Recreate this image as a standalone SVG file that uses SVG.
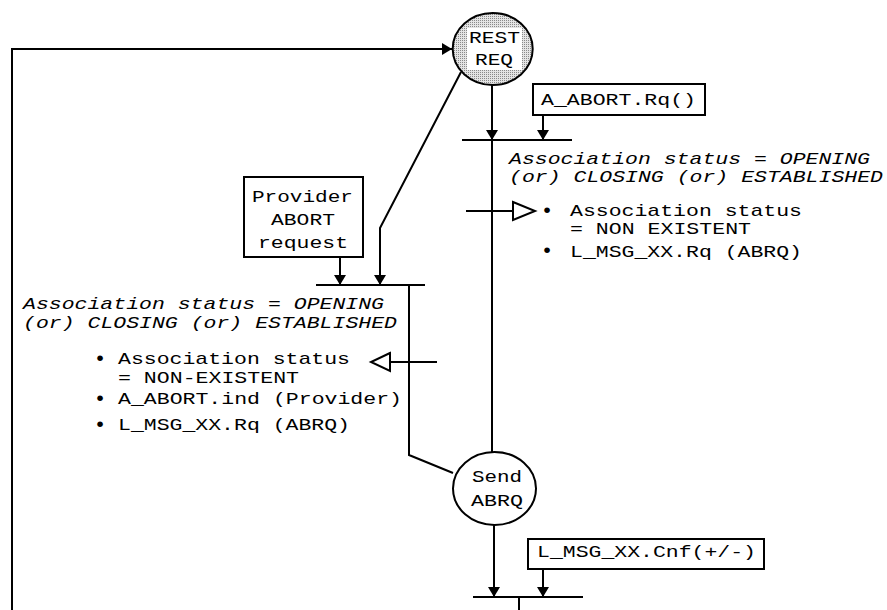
<svg xmlns="http://www.w3.org/2000/svg" width="887" height="610" viewBox="0 0 887 610">
<style>
.ln{fill:none;stroke:#000;stroke-width:2}
.bx{fill:#fff;stroke:#000;stroke-width:2}
.t{font-family:"Liberation Mono","DejaVu Sans Mono",monospace;font-size:17px;fill:#000}
.i{font-style:italic}
.b{font-family:"Liberation Mono","DejaVu Sans Mono",monospace;font-size:21px;fill:#000}
.hd{fill:#fff;stroke:#000;stroke-width:2}
</style>
<defs>
<marker id="ah" viewBox="0 0 10 12" refX="10" refY="6" markerWidth="10" markerHeight="12" markerUnits="userSpaceOnUse" orient="auto">
<path d="M0,0 L10,6 L0,12 Z" fill="#000"/>
</marker>
<pattern id="dots" width="2" height="2" patternUnits="userSpaceOnUse">
<rect width="2" height="2" fill="#e4e4e4"/>
<rect width="1" height="1" fill="#8a8a8a"/>
</pattern>
</defs>
<rect width="887" height="610" fill="#fff"/>
<g id="connectors">
<path class="ln" d="M12,610 V49 H452" marker-end="url(#ah)"/>
<path class="ln" d="M492,85 V140" marker-end="url(#ah)"/>
<path class="ln" d="M543,115 V140" marker-end="url(#ah)"/>
<path class="ln" d="M492,140 V452"/>
<path class="ln" d="M461,72 L380,228 V285" marker-end="url(#ah)"/>
<path class="ln" d="M340,257 V285" marker-end="url(#ah)"/>
<path class="ln" d="M409,285 V455 L453,473"/>
<path class="ln" d="M494,525 V597" marker-end="url(#ah)"/>
<path class="ln" d="M543,569 V597" marker-end="url(#ah)"/>
<path class="ln" d="M519,597 V610"/>
<path class="ln" d="M466,211 H513"/>
<path class="ln" d="M437,362 H390"/>
</g>
<g id="rest_req">
<ellipse cx="492.7" cy="49" rx="40" ry="36" fill="url(#dots)" stroke="#000" stroke-width="2"/>
<rect x="467" y="28" width="55" height="42" fill="#fff"/>
<text class="t" x="469" y="43" textLength="51" lengthAdjust="spacingAndGlyphs">REST</text>
<text class="t" x="475" y="65" textLength="38" lengthAdjust="spacingAndGlyphs">REQ</text>
</g>
<g id="a_abort_rq">
<rect class="bx" x="533" y="84" width="172" height="31"/>
<text class="t" x="541" y="105" textLength="155" lengthAdjust="spacingAndGlyphs">A_ABORT.Rq()</text>
</g>
<g id="transition_user_abort">
<line class="ln" x1="462" y1="140" x2="572" y2="140"/>
<text class="t i" x="509" y="164" textLength="361" lengthAdjust="spacingAndGlyphs">Association status = OPENING</text>
<text class="t i" x="509" y="182" textLength="374" lengthAdjust="spacingAndGlyphs">(or) CLOSING (or) ESTABLISHED</text>
<polygon class="hd" points="513,202 535,211 513,220"/>
<text class="b" x="540.7" y="216.7">•</text>
<text class="t" x="570" y="216" textLength="232" lengthAdjust="spacingAndGlyphs">Association status</text>
<text class="t" x="570" y="234" textLength="181" lengthAdjust="spacingAndGlyphs">= NON EXISTENT</text>
<text class="b" x="540.7" y="256.7">•</text>
<text class="t" x="570" y="257" textLength="232" lengthAdjust="spacingAndGlyphs">L_MSG_XX.Rq (ABRQ)</text>
</g>
<g id="provider_abort">
<rect class="bx" x="244" y="177" width="119" height="80"/>
<text class="t" x="252" y="202" textLength="101" lengthAdjust="spacingAndGlyphs">Provider</text>
<text class="t" x="271" y="225" textLength="64" lengthAdjust="spacingAndGlyphs">ABORT</text>
<text class="t" x="258" y="248" textLength="90" lengthAdjust="spacingAndGlyphs">request</text>
</g>
<g id="transition_provider_abort">
<line class="ln" x1="316" y1="285" x2="425" y2="285"/>
<text class="t i" x="23" y="309" textLength="361" lengthAdjust="spacingAndGlyphs">Association status = OPENING</text>
<text class="t i" x="23" y="328" textLength="374" lengthAdjust="spacingAndGlyphs">(or) CLOSING (or) ESTABLISHED</text>
<polygon class="hd" points="390,353 371,362 390,371"/>
<text class="b" x="93.7" y="364.7">•</text>
<text class="t" x="118" y="364" textLength="232" lengthAdjust="spacingAndGlyphs">Association status</text>
<text class="t" x="118" y="383" textLength="181" lengthAdjust="spacingAndGlyphs">= NON-EXISTENT</text>
<text class="b" x="93.7" y="404.7">•</text>
<text class="t" x="118" y="404" textLength="284" lengthAdjust="spacingAndGlyphs">A_ABORT.ind (Provider)</text>
<text class="b" x="93.7" y="430.7">•</text>
<text class="t" x="118" y="430" textLength="232" lengthAdjust="spacingAndGlyphs">L_MSG_XX.Rq (ABRQ)</text>
</g>
<g id="send_abrq">
<ellipse cx="494.5" cy="488.5" rx="41.5" ry="36.5" fill="#fff" stroke="#000" stroke-width="2"/>
<text class="t" x="472" y="482" textLength="50" lengthAdjust="spacingAndGlyphs">Send</text>
<text class="t" x="471" y="506" textLength="52" lengthAdjust="spacingAndGlyphs">ABRQ</text>
</g>
<g id="l_msg_cnf">
<rect class="bx" x="528" y="539" width="236" height="30"/>
<text class="t" x="537" y="557" textLength="219" lengthAdjust="spacingAndGlyphs">L_MSG_XX.Cnf(+/-)</text>
</g>
<g id="transition_cnf">
<line class="ln" x1="473" y1="597" x2="583" y2="597"/>
</g>
</svg>
